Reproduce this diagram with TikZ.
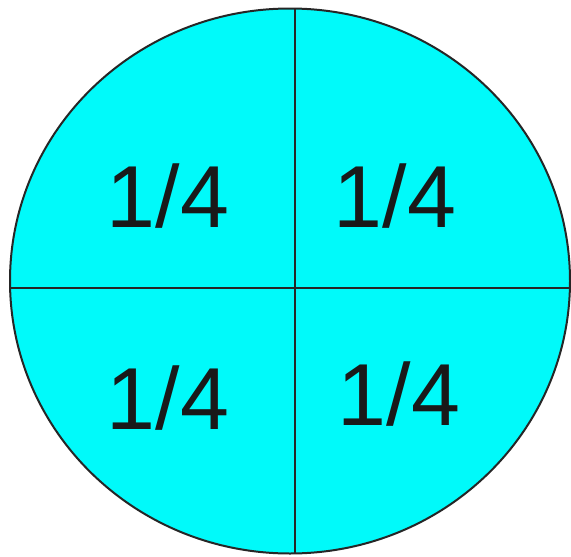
\documentclass[tikz,border=0pt]{standalone}
\usepackage{fontspec}
\setmainfont{Liberation Sans}
\definecolor{pie}{HTML}{00FAFA}
\tikzset{
  frac/.style={anchor=base, inner sep=0pt, font=\fontsize{88}{88}\selectfont, text=black!90},
  cut/.style={draw=black!85, line width=2pt}
}
\begin{document}
\begin{tikzpicture}[x=1pt,y=-1pt]
\useasboundingbox (0,0) rectangle (571,557);
\fill[white] (0,0) rectangle (571,557);
\coordinate (c) at (290,281);
\draw[cut, fill=pie] (c) ellipse [x radius=280, y radius=272.5];
\coordinate (top) at (295,8.5);
\coordinate (bot) at (295,553.5);
\coordinate (lft) at (10,288);
\coordinate (rgt) at (571,288);
\draw[cut] (top) -- (bot);
\draw[cut] (lft) -- (rgt);
\node[frac] (tl) at (168,227) {1/4};
\node[frac] (tr) at (395,227) {1/4};
\node[frac] (bl) at (168,429) {1/4};
\node[frac] (br) at (399,425) {1/4};
\end{tikzpicture}
\end{document}
